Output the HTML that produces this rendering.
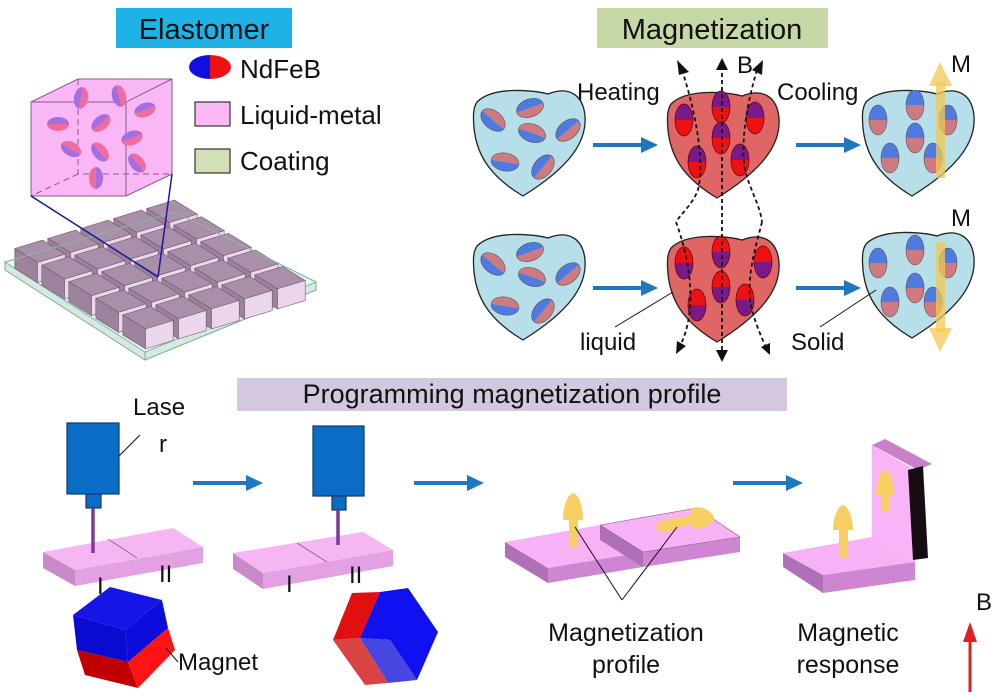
<!DOCTYPE html>
<html><head><meta charset="utf-8"><style>
html,body{margin:0;padding:0;background:#fff;}
svg{display:block;font-family:"Liberation Sans",Arial,sans-serif;}
</style></head><body>
<svg width="996" height="696" viewBox="0 0 996 696" xmlns="http://www.w3.org/2000/svg">
<defs>
  <g id="blk">
    <polygon points="4.8,0.5 32.5,-7.9 55.2,6.1 27.5,14.5" fill="#a98fa9" stroke="#6e5a6e" stroke-width="0.6"/>
    <polygon points="4.8,0.5 27.5,14.5 27.5,34.5 4.8,20.5" fill="#9c829c" stroke="#6e5a6e" stroke-width="0.6"/>
    <polygon points="27.5,14.5 55.2,6.1 55.2,26.1 27.5,34.5" fill="#ecd6ec" stroke="#6e5a6e" stroke-width="0.6"/>
  </g>
  <path id="blob" d="M4,14 C20,-2 60,2 75,6 C95,-2 110,6 112,28 C114,55 95,80 50,108 C20,90 4,70 1,40 C0,28 0,20 4,14 Z"/>
  <g id="pb"><path d="M0,-14 A9,14 0 0,0 0,14 Z" fill="#4f7be0"/><path d="M0,-14 A9,14 0 0,1 0,14 Z" fill="#cf7a80"/><ellipse rx="9" ry="14" fill="none" stroke="#555" stroke-width="0.6"/></g>
  <g id="pv"><path d="M-9,0 A9,15 0 0,1 9,0 Z" fill="#4f7be0"/><path d="M-9,0 A9,15 0 0,0 9,0 Z" fill="#cf7a80"/><ellipse rx="9" ry="15" fill="none" stroke="#555" stroke-width="0.6"/></g>
  <g id="pr1"><path d="M-9,0 A9,16 0 0,1 9,0 Z" fill="#7a1a88"/><path d="M-9,0 A9,16 0 0,0 9,0 Z" fill="#ee1111"/><ellipse rx="9" ry="16" fill="none" stroke="#600" stroke-width="0.7"/></g>
  <g id="pr2"><path d="M-9,0 A9,16 0 0,1 9,0 Z" fill="#ee1111"/><path d="M-9,0 A9,16 0 0,0 9,0 Z" fill="#7a1a88"/><ellipse rx="9" ry="16" fill="none" stroke="#600" stroke-width="0.7"/></g>
  <g id="pc"><path d="M0,-11 A7,11 0 0,0 0,11 Z" fill="#a46ee0"/><path d="M0,-11 A7,11 0 0,1 0,11 Z" fill="#ef6c9c"/></g>
</defs>

<!-- ===== Elastomer ===== -->
<rect x="116" y="8" width="176" height="40" fill="#1eb2e6"/>
<text x="204" y="39" font-size="29" text-anchor="middle" fill="#111">Elastomer</text>

<g transform="translate(210,67)"><path d="M0,-12 A21,12 0 0,0 0,12 Z" fill="#1010e0"/><path d="M0,-12 A21,12 0 0,1 0,12 Z" fill="#ee1111"/></g>
<text x="240" y="78" font-size="26" fill="#111">NdFeB</text>
<rect x="195" y="102" width="35" height="24" fill="#fbb8f4" stroke="#333" stroke-width="1.2"/>
<text x="240" y="124" font-size="26" fill="#111">Liquid-metal</text>
<rect x="195" y="149" width="35" height="24" fill="#d3dfb6" stroke="#333" stroke-width="1.2"/>
<text x="240" y="170" font-size="26" fill="#111">Coating</text>

<!-- cube -->
<polygon points="31,102 78,79 172,79 172,174 126,196 31,196" fill="#f9b8f5"/>
<g stroke="#8a5a8a" stroke-width="1" fill="none">
  <polyline points="31,102 78,79 172,79 172,174 126,196"/>
  <rect x="31" y="102" width="95" height="94"/>
  <line x1="126" y1="102" x2="172" y2="79"/>
  <polyline points="78,79 78,174 172,174" stroke-dasharray="6,4"/>
  <line x1="78" y1="174" x2="31" y2="196" stroke-dasharray="6,4"/>
</g>
<use href="#pc" transform="translate(81,98) rotate(10)"/>
<use href="#pc" transform="translate(119,96) rotate(-15)"/>
<use href="#pc" transform="translate(145,110) rotate(70)"/>
<use href="#pc" transform="translate(58,124) rotate(90)"/>
<use href="#pc" transform="translate(101,123) rotate(50)"/>
<use href="#pc" transform="translate(132,138) rotate(70)"/>
<use href="#pc" transform="translate(71,149) rotate(-60)"/>
<use href="#pc" transform="translate(100,152) rotate(-40)"/>
<use href="#pc" transform="translate(137,163) rotate(-40)"/>
<use href="#pc" transform="translate(96,178) rotate(180)"/>

<!-- board -->
<polygon points="5,262 145,352 145,360 5,270" fill="#d5e9e0" stroke="#7fa898" stroke-width="1"/>
<polygon points="145,352 316,282 316,290 145,360" fill="#d5e9e0" stroke="#7fa898" stroke-width="1"/>
<polygon points="5,262 175,212 316,282 145,352" fill="#eaf6f2" stroke="#8ab8a8" stroke-width="1"/>
<g transform="translate(0,-6)">
<use href="#blk" x="142" y="214"/><use href="#blk" x="109" y="224"/><use href="#blk" x="76" y="234"/><use href="#blk" x="43" y="244"/><use href="#blk" x="10" y="254"/>
<use href="#blk" x="169" y="230.6"/><use href="#blk" x="136" y="240.6"/><use href="#blk" x="103" y="250.6"/><use href="#blk" x="70" y="260.6"/><use href="#blk" x="37" y="270.6"/>
<use href="#blk" x="196" y="247.2"/><use href="#blk" x="163" y="257.2"/><use href="#blk" x="130" y="267.2"/><use href="#blk" x="97" y="277.2"/><use href="#blk" x="64" y="287.2"/>
<use href="#blk" x="223" y="263.8"/><use href="#blk" x="190" y="273.8"/><use href="#blk" x="157" y="283.8"/><use href="#blk" x="124" y="293.8"/><use href="#blk" x="91" y="303.8"/>
<use href="#blk" x="250" y="280.4"/><use href="#blk" x="217" y="290.4"/><use href="#blk" x="184" y="300.4"/><use href="#blk" x="151" y="310.4"/><use href="#blk" x="118" y="320.4"/>
</g>
<polyline points="5,262 175,212 316,282" fill="none" stroke="#8ab8a8" stroke-width="1"/>
<line x1="31" y1="196" x2="158" y2="277" stroke="#1a1a9a" stroke-width="1.5"/>
<line x1="172" y1="174" x2="158" y2="277" stroke="#1a1a9a" stroke-width="1.5"/>

<!-- ===== Magnetization ===== -->
<rect x="597" y="8" width="231" height="40" fill="#c5d8a6"/>
<text x="712" y="39" font-size="29" text-anchor="middle" fill="#111">Magnetization</text>

<g stroke="#222" stroke-width="1.3">
  <use href="#blob" x="473" y="88" fill="#b7dfe9"/>
  <use href="#blob" x="667" y="90" fill="#e06666"/>
  <use href="#blob" x="862" y="88" fill="#b7dfe9"/>
  <use href="#blob" x="473" y="232" fill="#b7dfe9"/>
  <use href="#blob" x="667" y="234" fill="#e06666"/>
  <use href="#blob" x="862" y="230" fill="#b7dfe9"/>
</g>
<use href="#pb" transform="translate(493,120) rotate(-50)"/>
<use href="#pb" transform="translate(530,108) rotate(70)"/>
<use href="#pb" transform="translate(532,133) rotate(-70)"/>
<use href="#pb" transform="translate(568,130) rotate(50)"/>
<use href="#pb" transform="translate(505,162) rotate(-80)"/>
<use href="#pb" transform="translate(543,167) rotate(40)"/>
<use href="#pb" transform="translate(493,264) rotate(-50)"/>
<use href="#pb" transform="translate(530,252) rotate(70)"/>
<use href="#pb" transform="translate(532,277) rotate(-70)"/>
<use href="#pb" transform="translate(568,274) rotate(50)"/>
<use href="#pb" transform="translate(505,306) rotate(-80)"/>
<use href="#pb" transform="translate(543,311) rotate(40)"/>
<use href="#pr1" x="684" y="120"/><use href="#pr1" x="721" y="107"/><use href="#pr1" x="755" y="118"/>
<use href="#pr1" x="721" y="138"/><use href="#pr1" x="697" y="162"/><use href="#pr1" x="740" y="160"/>
<use href="#pr2" x="684" y="263"/><use href="#pr2" x="721" y="252"/><use href="#pr2" x="763" y="262"/>
<use href="#pr2" x="721" y="287"/><use href="#pr2" x="697" y="305"/><use href="#pr2" x="745" y="300"/>
<use href="#pv" x="878" y="120"/><use href="#pv" x="915" y="105"/><use href="#pv" x="948" y="120"/>
<use href="#pv" x="915" y="138"/><use href="#pv" x="890" y="158"/><use href="#pv" x="933" y="158"/>
<use href="#pv" x="878" y="263"/><use href="#pv" x="915" y="250"/><use href="#pv" x="948" y="263"/>
<use href="#pv" x="915" y="288"/><use href="#pv" x="890" y="302"/><use href="#pv" x="933" y="302"/>
<g fill="#f2c850" fill-opacity="0.75">
  <rect x="936" y="82" width="9" height="96"/>
  <polygon points="929,86 940,62 952,86"/>
  <rect x="936" y="242" width="9" height="90"/>
  <polygon points="929,328 940,352 952,328"/>
</g>
<g stroke="#111" stroke-width="1.8" stroke-dasharray="4,3" fill="none">
  <path d="M682,70 C695,110 705,160 698,190 C692,205 680,215 676,222"/>
  <path d="M676,222 C690,260 698,310 680,346"/>
  <line x1="722" y1="66" x2="722" y2="355"/>
  <path d="M757,70 C748,100 740,140 745,170 C750,190 760,205 762,222"/>
  <path d="M762,222 C755,250 745,280 752,310 C756,325 762,338 766,348"/>
</g>
<g fill="#111">
  <polygon points="677,60 689,72 679,75"/>
  <polygon points="722,58 716,70 728,70"/>
  <polygon points="763,60 752,70 762,75"/>
  <polygon points="676,354 677,341 686,346"/>
  <polygon points="722,362 716,350 728,350"/>
  <polygon points="770,355 761,347 770,343"/>
</g>
<g stroke="#1f77c0" stroke-width="4"><line x1="593" y1="145" x2="643" y2="145"/><line x1="796" y1="145" x2="846" y2="145"/><line x1="593" y1="288" x2="643" y2="288"/><line x1="796" y1="288" x2="846" y2="288"/></g>
<g fill="#1f77c0"><polygon points="641,137 658,145 641,153"/><polygon points="844,137 861,145 844,153"/><polygon points="641,280 658,288 641,296"/><polygon points="844,280 861,288 844,296"/></g>
<g font-size="24" fill="#111">
  <text x="577" y="100">Heating</text>
  <text x="737" y="73">B</text>
  <text x="777" y="100">Cooling</text>
  <text x="951" y="72">M</text>
  <text x="951" y="226">M</text>
  <text x="580" y="350">liquid</text>
  <text x="791" y="350">Solid</text>
</g>
<line x1="615" y1="327" x2="673" y2="292" stroke="#111" stroke-width="1"/>
<line x1="820" y1="327" x2="876" y2="290" stroke="#111" stroke-width="1"/>

<!-- ===== Programming ===== -->
<rect x="237" y="378" width="550" height="33" fill="#d4c8e1"/>
<text x="512" y="403" font-size="27" text-anchor="middle" fill="#111">Programming magnetization profile</text>

<g font-size="24" fill="#111">
  <text x="133" y="415">Lase</text>
  <text x="159" y="452">r</text>
</g>
<line x1="140" y1="435" x2="106" y2="469" stroke="#111" stroke-width="1"/>
<rect x="67" y="423" width="52" height="71" fill="#0a6cc4" stroke="#133a66" stroke-width="1.2"/>
<rect x="86" y="494" width="15" height="14" fill="#0a6cc4" stroke="#133a66" stroke-width="1.2"/>
<polygon points="43,552 75,570 75,586 43,568" fill="#c98ac9"/>
<polygon points="75,570 203,547 203,563 75,586" fill="#e3a0e3"/>
<polygon points="43,552 173,528 203,547 75,570" fill="#f6b6f4"/>
<line x1="108" y1="539" x2="137" y2="558" stroke="#8a5a8a" stroke-width="0.8"/>
<line x1="93" y1="508" x2="93" y2="553" stroke="#7a3a9a" stroke-width="3.5"/>
<rect x="313" y="426" width="51" height="70" fill="#0a6cc4" stroke="#133a66" stroke-width="1.2"/>
<rect x="332" y="496" width="14" height="14" fill="#0a6cc4" stroke="#133a66" stroke-width="1.2"/>
<polygon points="233,553 263,573 263,589 233,569" fill="#c98ac9"/>
<polygon points="263,573 393,550 393,566 263,589" fill="#e3a0e3"/>
<polygon points="233,553 363,532 393,550 263,573" fill="#f6b6f4"/>
<line x1="297" y1="543" x2="327" y2="562" stroke="#8a5a8a" stroke-width="0.8"/>
<line x1="338" y1="510" x2="338" y2="545" stroke="#7a3a9a" stroke-width="3.5"/>
<g font-size="24" fill="#111"><text x="97" y="594">I</text><text x="159" y="582">II</text><text x="286" y="592">I</text><text x="349" y="583">II</text></g>

<polygon points="73,615 110,587 162,600 125,630" fill="#1515e5"/>
<polygon points="73,615 125,630 128,662 77,650" fill="#0a0ad0"/>
<polygon points="77,650 128,662 138,688 85,675" fill="#c00000"/>
<polygon points="125,630 162,600 168,628 128,662" fill="#0c0cdc"/>
<polygon points="128,662 168,628 175,650 138,688" fill="#ff1414"/>
<text x="178" y="670" font-size="24" fill="#111">Magnet</text>
<line x1="178" y1="662" x2="166" y2="648" stroke="#111" stroke-width="1"/>
<polygon points="333,640 352,593 380,592 360,638" fill="#e01010"/>
<polygon points="380,592 408,588 438,632 417,680 390,640 360,638" fill="#1010f0"/>
<polygon points="360,638 390,640 417,680 388,683" fill="#4646e0"/>
<polygon points="333,640 360,638 388,683 365,685" fill="#d84444"/>

<g stroke="#1f77c0" stroke-width="4"><line x1="193" y1="483" x2="248" y2="483"/><line x1="414" y1="483" x2="469" y2="483"/><line x1="733" y1="483" x2="788" y2="483"/></g>
<g fill="#1f77c0"><polygon points="246,475 263,483 246,491"/><polygon points="467,475 484,483 467,491"/><polygon points="786,475 803,483 786,491"/></g>

<polygon points="505,542 548,568 548,583 505,557" fill="#b070b8"/>
<polygon points="548,568 643,552 643,567 548,583" fill="#cf86d2"/>
<polygon points="505,542 600,525 643,552 548,568" fill="#f6b2f4"/>
<polygon points="600,525 643,552 643,567 600,540" fill="#b070b8"/>
<polygon points="643,552 740,537 740,552 643,567" fill="#cf86d2"/>
<polygon points="600,525 697,508 740,537 643,552" fill="#f6b2f4" stroke="#8a5a8a" stroke-width="0.6"/>
<g fill="#f7cf62">
  <rect x="569" y="512" width="9" height="35"/>
  <path d="M563,520 C563,505 568,494 573,493 C578,494 583,505 583,520 Z"/>
  <path d="M656,524 C660,520 675,518 690,516 L692,508 C700,505 712,510 714,518 C712,525 702,530 693,528 L690,524 C680,528 665,533 658,532 Z"/>
</g>
<line x1="575" y1="527" x2="622" y2="600" stroke="#111" stroke-width="1"/>
<line x1="677" y1="527" x2="622" y2="600" stroke="#111" stroke-width="1"/>
<g font-size="25" fill="#111" text-anchor="middle"><text x="626" y="641">Magnetization</text><text x="626" y="673">profile</text></g>

<polygon points="783,553 823,575 823,593 783,567" fill="#b070b8"/>
<polygon points="823,575 915,562 915,580 823,593" fill="#cf86d2"/>
<polygon points="872,445 915,470 915,562 872,537" fill="#f7b4f6"/>
<polygon points="783,553 872,537 915,562 823,575" fill="#f6b2f4"/>
<polygon points="872,445 885,439 932,464 918,470" fill="#c880c8"/>
<polygon points="908,470 923,466 928,558 913,560" fill="#150d12"/>
<g fill="#f7cf62">
  <rect x="881" y="485" width="8" height="26"/>
  <path d="M876,495 C876,482 880,471 885,470 C890,471 894,482 894,495 Z"/>
  <rect x="839" y="520" width="9" height="38"/>
  <path d="M833,530 C833,517 838,506 843,505 C848,506 853,517 853,530 Z"/>
</g>
<g font-size="25" fill="#111" text-anchor="middle"><text x="848" y="641">Magnetic</text><text x="848" y="673">response</text></g>
<line x1="970" y1="692" x2="970" y2="640" stroke="#e02020" stroke-width="3"/>
<polygon points="963,642 970,622 977,642" fill="#e02020"/>
<text x="976" y="610" font-size="24" fill="#111">B</text>
</svg>
</body></html>
